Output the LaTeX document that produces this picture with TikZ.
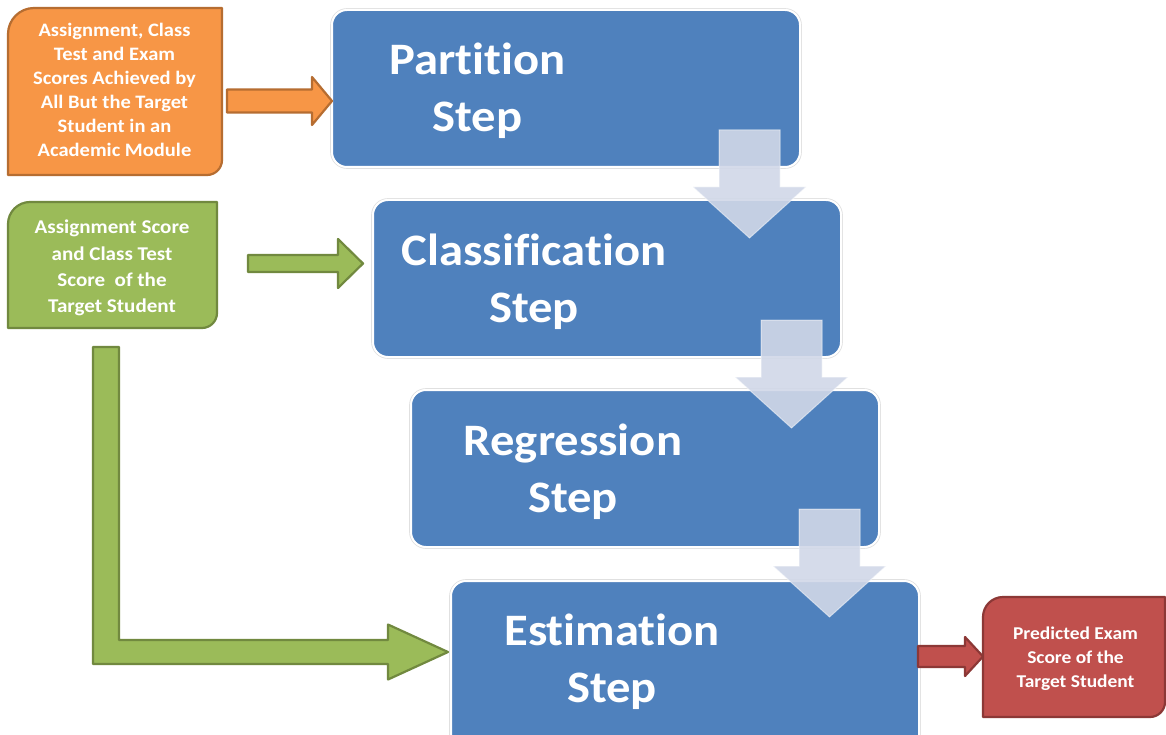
\documentclass[tikz,border=0pt]{standalone}
\usepackage{fontspec}
\setmainfont{Carlito}[FakeStretch=1.08, Ligatures=NoCommon]
\usetikzlibrary{calc}

\definecolor{stepblue}{HTML}{4F81BD}
\definecolor{orangefill}{HTML}{F79646}
\definecolor{orangeline}{HTML}{B66D31}
\definecolor{greenfill}{HTML}{9BBB59}
\definecolor{greenline}{HTML}{71893F}
\definecolor{redfill}{HTML}{C0504D}
\definecolor{redline}{HTML}{8C3836}
\definecolor{flowfill}{RGB}{209,216,232}

% box with rounded top-left and bottom-right corners, built on a named node
\newcommand\cornerbox[4]{%
  \path[#2] (#1.south west)
    -- ($(#1.north west)+(0,#3)$)
    .. controls ($(#1.north west)+(0,0.45*#3)$) and ($(#1.north west)+(0.45*#3,0)$) .. ($(#1.north west)+(#3,0)$)
    -- (#1.north east)
    -- ($(#1.south east)+(0,-#4)$)
    .. controls ($(#1.south east)+(0,-0.45*#4)$) and ($(#1.south east)+(-0.45*#4,0)$) .. ($(#1.south east)+(-#4,0)$)
    -- cycle;}

% horizontal block arrow: style, tail, tip, half shaft, half head, head length
\newcommand\hblock[6]{%
  \path[#1] ($(#2)+(0,-#4)$) -- ($(#3)+(-#6,-#4)$) -- ($(#3)+(-#6,-#5)$) -- (#3)
    -- ($(#3)+(-#6,#5)$) -- ($(#3)+(-#6,#4)$) -- ($(#2)+(0,#4)$) -- cycle;}

% downward block arrow: style, tail, tip, half shaft, half head, head length
\newcommand\vblock[6]{%
  \path[#1] ($(#2)+(-#4,0)$) -- ($(#3)+(-#4,-#6)$) -- ($(#3)+(-#5,-#6)$) -- (#3)
    -- ($(#3)+(#5,-#6)$) -- ($(#3)+(#4,-#6)$) -- ($(#2)+(#4,0)$) -- cycle;}

\tikzset{
  stepbox/.style={rectangle, rounded corners=15pt, fill=stepblue, draw=white, line width=2pt,
    preaction={draw=black!12, line width=3.6pt},
    minimum width=468pt, minimum height=157pt, anchor=north west, inner sep=0pt, outer sep=0pt},
  boxgeom/.style={rectangle, anchor=north west, inner sep=0pt, outer sep=0pt},
  orangebox/.style={fill=orangefill, draw=orangeline, line width=2.2pt, line join=round},
  greenbox/.style={fill=greenfill, draw=greenline, line width=2.2pt, line join=round},
  redbox/.style={fill=redfill, draw=redline, line width=2.2pt, line join=round},
  flowarrow/.style={fill=flowfill, fill opacity=0.9, draw=white, draw opacity=0.5, line width=1pt},
  % multi-line texts are placed by the baseline of their last line
  steptext/.style={text=white, font=\bfseries\fontsize{45}{57}\selectfont, align=center, anchor=base, inner sep=0pt},
  inputtext/.style={text=white, font=\bfseries\fontsize{19}{24}\selectfont, align=center, anchor=base, inner sep=0pt},
}

\begin{document}
\begin{tikzpicture}[x=1pt, y=-1pt]
\clip (0,0) rectangle (1166,735);
\fill[white] (0,0) rectangle (1166,735);

% the four processing steps
\node[stepbox] (part) at (332,10) {};
\node[stepbox] (class) at (373,200) {};
\node[stepbox] (regr) at (411,390) {};
\node[stepbox, minimum height=175pt] (est) at (451,581) {};

\node[steptext] (partT) at (477.5,132) {Partition\\Step};
\node[steptext] (classT) at (534,322) {Classification\\Step};
\node[steptext] (regrT) at (573,512) {Regression\\Step};
\node[steptext] (estT) at (612,702) {Estimation\\Step};

% inputs and output
\node[boxgeom, minimum width=214pt, minimum height=167pt] (scores) at (8,8) {};
\cornerbox{scores}{orangebox}{26}{15}
\node[inputtext] (scoresT) at (114.5,157) {Assignment, Class\\Test and Exam\\Scores Achieved by\\All But the Target\\Student in an\\Academic Module};

\node[boxgeom, minimum width=209pt, minimum height=126pt] (target) at (8,202) {};
\cornerbox{target}{greenbox}{22}{15}
\node[inputtext, font=\bfseries\fontsize{19.5}{26}\selectfont] (targetT) at (112,312) {Assignment Score\\and Class Test\\Score~ of the\\Target Student};

\node[boxgeom, minimum width=182pt, minimum height=120pt] (pred) at (983,597) {};
\cornerbox{pred}{redbox}{20}{15}
\node[inputtext, font=\bfseries\fontsize{18}{24}\selectfont] (predT) at (1075.5,687) {Predicted Exam\\Score of the\\Target Student};

% input arrows
\coordinate (otail) at (227,101);
\coordinate (otip) at ($(part.north west)+(0,91)$);
\hblock{orangebox}{otail}{otip}{11.5}{24}{20}

\coordinate (gtail) at (248,263.5);
\coordinate (gtip) at ($(class.north west)+(-10,63.5)$);
\hblock{greenbox}{gtail}{gtip}{8.5}{24.5}{25}

\coordinate (ltail) at ($(target.south west)+(98,19)$);
\coordinate (ltip) at ($(est.north west)+(-3,71)$);
\path[greenbox] ($(ltail)+(-13,0)$) -- ($(ltail |- ltip)+(-13,12)$) -- ($(ltip)+(-60,12)$)
  -- ($(ltip)+(-60,27.5)$) -- (ltip) -- ($(ltip)+(-60,-27.5)$) -- ($(ltip)+(-60,-12)$)
  -- ($(ltail |- ltip)+(13,-12)$) -- ($(ltail)+(13,0)$) -- cycle;

% output arrow
\coordinate (rtail) at ($(est.north east)+(-1,75.5)$);
\coordinate (rtip) at ($(pred.north west)+(0,59.5)$);
\hblock{redbox}{rtail}{rtip}{10.5}{19.5}{18}

% flow between steps
\vblock{flowarrow}{$(part.south east)+(-50.5,-37)$}{$(part.south east)+(-50.5,71)$}{30.5}{56.5}{51}
\vblock{flowarrow}{$(class.south east)+(-49.5,-37)$}{$(class.south east)+(-49.5,71)$}{30.5}{56.5}{51}
\vblock{flowarrow}{$(regr.south east)+(-49.5,-38)$}{$(regr.south east)+(-49.5,70)$}{30.5}{56.5}{51}
\end{tikzpicture}
\end{document}
